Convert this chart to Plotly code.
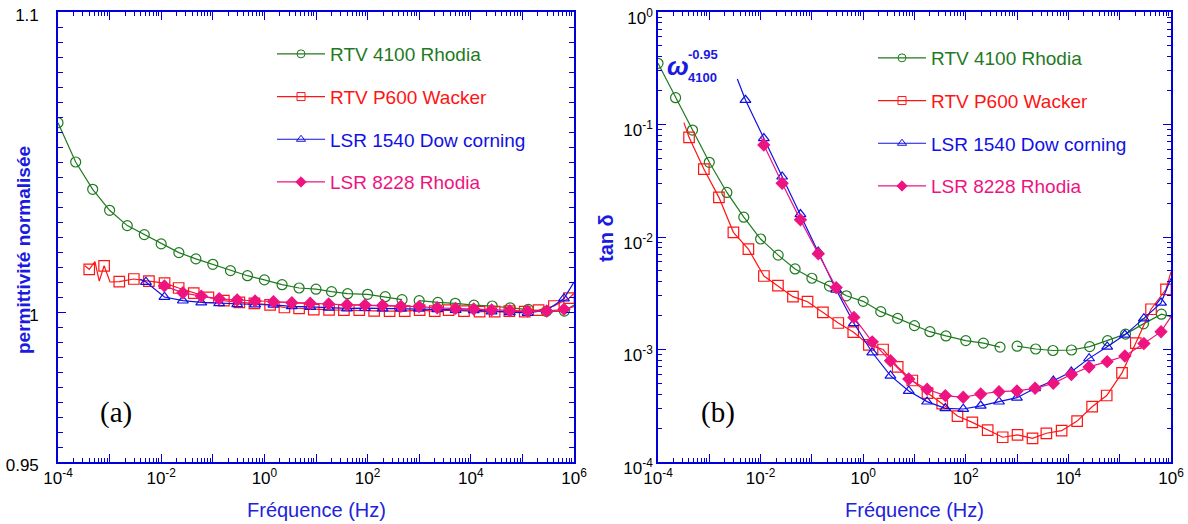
import plotly.graph_objects as go

# ------------------------------------------------------------------ data
names = ["RTV 4100 Rhodia", "RTV P600 Wacker", "LSR 1540 Dow corning", "LSR 8228 Rhodia"]

# RTV 4100 Rhodia : two measurement runs (low / high frequency), frequency in Hz
rtv4100_f_lf = [1.0e-4, 2.2e-4, 4.7e-4, 1.0e-3, 2.2e-3, 4.7e-3, 1.0e-2, 2.2e-2, 4.7e-2, 0.10, 0.22,
                0.47, 1.0, 2.2, 4.7, 10, 20, 41, 100, 220, 465]
rtv4100_f_hf = [1.0e3, 2.3e3, 5.0e3, 1.15e4, 2.6e4, 5.8e4, 1.3e5, 2.9e5, 6.5e5]
rtv4100_eps_lf = [1.0631, 1.0500, 1.0409, 1.0339, 1.0288, 1.0258, 1.0227, 1.0198, 1.0177, 1.0159, 1.0138,
                  1.0121, 1.0107, 1.0091, 1.0080, 1.0076, 1.0068, 1.0061, 1.0059, 1.0051, 1.0041]
rtv4100_eps_hf = [1.0038, 1.0032, 1.0029, 1.0023, 1.0020, 1.0014, 1.0009, 1.0002, 1.0003]
rtv4100_tan_lf = [0.350, 0.173, 0.0893, 0.0461, 0.0249, 0.0150, 0.0096, 0.0069, 0.0052, 0.0043, 0.00366,
                  0.0030, 0.00268, 0.00217, 0.00189, 0.00163, 0.00144, 0.00132, 0.00120, 0.00114, 0.00105]
rtv4100_tan_hf = [0.00107, 0.00101, 0.00098, 0.00099, 0.00106, 0.00120, 0.00137, 0.00169, 0.00206]
rtv4100_end_f = [1.0e6]
rtv4100_eps_end = [1.0023]
rtv4100_tan_end = [0.00196]

# RTV P600 Wacker
p600_f = [4.03e-4, 7.83e-4, 1.54e-3, 2.95e-3, 5.78e-3, 1.16e-2, 2.18e-2, 4.27e-2, 8.22e-2, 0.164, 0.327,
          0.640, 1.29, 2.44, 4.70, 9.06, 17.9, 34.7, 68.9, 134, 267, 524, 1.02e3, 2.00e3, 3.72e3,
          7.38e3, 1.48e4, 2.90e4, 5.58e4, 1.11e5, 2.06e5, 4.08e5, 8.0e5]
p600_eps = [1.0142, 1.0154, 1.0101, 1.0110, 1.0103, 1.0096, 1.0080, 1.0063, 1.0049, 1.0038, 1.0032,
            1.0029, 1.0024, 1.0015, 1.0012, 1.0008, 1.0007, 1.0006, 1.0006, 1.0004, 1.0003, 1.0003,
            1.0006, 1.0003, 1.0006, 1.0003, 1.0001, 1.0001, 1.0003, 1.0001, 1.0006, 1.0020, 1.0046]
p600_tan = [0.0769, 0.0402, 0.0225, 0.0110, 0.0078, 0.0045, 0.0037, 0.00295, 0.00266, 0.00214, 0.00172,
            0.00143, 0.00110, 0.00100, 0.00070, 0.00053, 0.00041, 0.00033, 0.000256, 0.000225, 0.000192,
            0.000166, 0.000174, 0.000162, 0.000180, 0.000190, 0.000231, 0.00031, 0.00039, 0.00062,
            0.00114, 0.00228, 0.00343]
p600_eps_extra_f = [3.33e-4, 5.2e-4, 6.3e-4, 1.02e-3, 1.0e6]
p600_eps_extra = [1.0154, 1.0168, 1.0103, 1.0100, 1.0062]
p600_tan_extra_f = [3.2e-4, 1.0e6]
p600_tan_extra = [0.104, 0.0049]

# LSR 1540 Dow corning
lsr1540_f = [5.07e-3, 1.156e-2, 2.63e-2, 5.98e-2, 0.133, 0.297, 0.66, 1.50, 3.40, 7.73, 17.6, 39.9,
             89.1, 195, 444, 993, 2.24e3, 5.08e3, 1.14e4, 2.53e4, 5.70e4, 1.26e5, 2.96e5, 6.40e5]
lsr1540_eps = [1.0100, 1.0050, 1.0038, 1.0032, 1.0029, 1.0026, 1.0025, 1.0024, 1.0019, 1.0017, 1.0014,
               1.0012, 1.0013, 1.0012, 1.0012, 1.0011, 1.0009, 1.0007, 1.0006, 1.0002, 0.9999, 0.9997,
               1.0006, 1.0045]
lsr1540_tan = [0.165, 0.0754, 0.0344, 0.0159, 0.0074, 0.0034, 0.00171, 0.00094, 0.000585, 0.000428,
               0.000344, 0.000300, 0.000296, 0.000316, 0.000344, 0.000373, 0.000452, 0.000528, 0.000635,
               0.000834, 0.00106, 0.00135, 0.00189, 0.00260]
lsr1540_eps_extra_f = [3.9e-3, 1.0e6]
lsr1540_eps_extra = [1.0109, 1.0100]
lsr1540_tan_extra_f = [3.52e-3, 1.0e6]
lsr1540_tan_extra = [0.254, 0.0043]

# LSR 8228 Rhodia
lsr8228_f = [1.156e-2, 2.63e-2, 5.98e-2, 0.133, 0.297, 0.66, 1.50, 3.40, 7.73, 17.6, 39.9,
             89.1, 195, 444, 993, 2.24e3, 5.08e3, 1.14e4, 2.53e4, 5.70e4, 1.26e5, 2.96e5, 6.40e5]
lsr8228_eps = [1.0087, 1.0064, 1.0053, 1.0044, 1.0040, 1.0037, 1.0034, 1.0031, 1.0029, 1.0027, 1.0024,
               1.0023, 1.0022, 1.0019, 1.0018, 1.0014, 1.0012, 1.0010, 1.0007, 1.0004, 1.0003, 1.0003,
               1.0009]
lsr8228_tan = [0.0658, 0.0300, 0.0142, 0.0071, 0.00355, 0.00193, 0.00117, 0.000795, 0.000547, 0.000443,
               0.000389, 0.000376, 0.000402, 0.000422, 0.000428, 0.000452, 0.000500, 0.000600, 0.000700,
               0.000780, 0.000875, 0.00113, 0.00144]
lsr8228_eps_extra_f = [1.0e6]
lsr8228_eps_extra = [1.0018]
lsr8228_tan_extra_f = [1.02e-2, 1.0e6]
lsr8228_tan_extra = [0.079, 0.00196]

# y tick labels of panel (a)
eps_tickvals = [0.95, 1.0, 1.1]
eps_ticktext = ["0.95", "1", "1.1"]

# ------------------------------------------------------------------ style
W, H = 1188, 524
GREEN, RED, BLUE, PINK = "#1f7a1f", "#ff1414", "#1010e6", "#ee1480"
AX = "#0000dd"
colors = [GREEN, RED, BLUE, PINK]
symbols = ["circle-open", "square-open", "triangle-up-open", "diamond"]
msize = [10, 10.5, 9.5, 9]


def px(x):
    return x / W


def py(y):
    return 1 - y / H


def merged(f, v, ef, ev):
    pts = sorted(zip(list(f) + list(ef), list(v) + list(ev)))
    return [p[0] for p in pts], [p[1] for p in pts]


fig = go.Figure()


def add_series(i, f, v, ef, ev, xa, ya):
    lx, ly = merged(f, v, ef, ev)
    fig.add_trace(go.Scatter(x=lx, y=ly, mode="lines", showlegend=False, hoverinfo="skip",
                             line=dict(color=colors[i], width=1.2), xaxis=xa, yaxis=ya))
    fig.add_trace(go.Scatter(x=f, y=v, mode="markers", showlegend=False,
                             marker=dict(symbol=symbols[i], size=msize[i], color=colors[i],
                                         line=dict(color=colors[i], width=1.2)),
                             xaxis=xa, yaxis=ya))


def add_green(lf_v, hf_v, end_v, xa, ya):
    ax_, ay_ = merged(rtv4100_f_lf, lf_v, [], [])
    bx_, by_ = merged(rtv4100_f_hf, hf_v, rtv4100_end_f, end_v)
    fig.add_trace(go.Scatter(x=ax_ + [None] + bx_, y=ay_ + [None] + by_, mode="lines", showlegend=False,
                             hoverinfo="skip", line=dict(color=GREEN, width=1.2), xaxis=xa, yaxis=ya,
                             connectgaps=False))
    fig.add_trace(go.Scatter(x=rtv4100_f_lf + rtv4100_f_hf, y=lf_v + hf_v, mode="markers", showlegend=False,
                             marker=dict(symbol=symbols[0], size=msize[0], color=GREEN,
                                         line=dict(color=GREEN, width=1.2)),
                             xaxis=xa, yaxis=ya))


# panel (a)
add_green(rtv4100_eps_lf, rtv4100_eps_hf, rtv4100_eps_end, "x", "y")
add_series(1, p600_f, p600_eps, p600_eps_extra_f, p600_eps_extra, "x", "y")
add_series(2, lsr1540_f, lsr1540_eps, lsr1540_eps_extra_f, lsr1540_eps_extra, "x", "y")
add_series(3, lsr8228_f, lsr8228_eps, lsr8228_eps_extra_f, lsr8228_eps_extra, "x", "y")
# panel (b)
add_green(rtv4100_tan_lf, rtv4100_tan_hf, rtv4100_tan_end, "x2", "y2")
add_series(1, p600_f, p600_tan, p600_tan_extra_f, p600_tan_extra, "x2", "y2")
add_series(2, lsr1540_f, lsr1540_tan, lsr1540_tan_extra_f, lsr1540_tan_extra, "x2", "y2")
add_series(3, lsr8228_f, lsr8228_tan, lsr8228_tan_extra_f, lsr8228_tan_extra, "x2", "y2")

# legend entries (one legend per panel)
leg_size = [8, 8, 8, 8]
for lg, xa, ya in (("legend", "x", "y"), ("legend2", "x2", "y2")):
    for i, n in enumerate(names):
        fig.add_trace(go.Scatter(x=[None], y=[None], mode="lines+markers", legend=lg,
                                 legendgroup=f"{lg}{i}",
                                 name=f"<span style='color:{colors[i]}'>{n}</span>",
                                 line=dict(color=colors[i], width=1.2),
                                 marker=dict(symbol=symbols[i], size=leg_size[i], color=colors[i],
                                             line=dict(color=colors[i], width=1)),
                                 xaxis=xa, yaxis=ya))

# ------------------------------------------------------------------ axes
dec_vals = [10.0 ** e for e in range(-4, 7)]
dec_text = [("10<sup>%d</sup>" % e if e % 2 == 0 else " ") for e in range(-4, 7)]
minor_log = [m * 10.0 ** e for e in range(-4, 6) for m in range(2, 10)]

tickfont = dict(family="Liberation Sans, Arial", size=17, color="black")
common = dict(showline=True, linecolor=AX, linewidth=1.6, mirror="ticks", ticks="inside",
              tickcolor=AX, tickwidth=1.2, showgrid=False, zeroline=False, tickfont=tickfont,
              automargin=False, ticklabeloverflow="allow")

xlog = dict(type="log", range=[-4, 6.00001], tickmode="array", tickvals=dec_vals, ticktext=dec_text,
            ticklen=8,
            minor=dict(tickmode="array", tickvals=minor_log, ticks="inside", ticklen=4, tickcolor=AX,
                       tickwidth=1, showgrid=False), **common)

eps_minor = [round(0.95 + 0.005 * k, 3) for k in range(31)]
ylin = dict(range=[0.95, 1.1], tickmode="array", tickvals=eps_tickvals, ticktext=eps_ticktext, ticklen=8,
            minor=dict(tickmode="array", tickvals=eps_minor, ticks="inside", ticklen=5, tickcolor=AX,
                       tickwidth=1, showgrid=False),
            ticklabelstandoff=14, ticklabelshift=3, **common)

ylog_vals = [10.0 ** e for e in range(-4, 1)]
ylog_text = ["10<sup>%d</sup>" % e for e in range(-4, 1)]
minor_ylog = [m * 10.0 ** e for e in range(-4, 0) for m in range(2, 10)]
ylog = dict(type="log", range=[-4, 0.00001], tickmode="array", tickvals=ylog_vals, ticktext=ylog_text,
            ticklen=8, ticklabelshift=6,
            minor=dict(tickmode="array", tickvals=minor_ylog, ticks="inside", ticklen=4, tickcolor=AX,
                       tickwidth=1, showgrid=False),
            **common)

legfont = dict(family="Liberation Sans, Arial", size=19)
fig.update_layout(
    width=W, height=H, margin=dict(l=0, r=0, t=0, b=0),
    paper_bgcolor="white", plot_bgcolor="white",
    xaxis=dict(domain=[px(58), px(574)], anchor="y", **xlog),
    yaxis=dict(domain=[py(462), py(12)], anchor="x", **ylin),
    xaxis2=dict(domain=[px(658), px(1171)], anchor="y2", **xlog),
    yaxis2=dict(domain=[py(462), py(12)], anchor="x2", **ylog),
    legend=dict(x=px(272), y=py(35), xanchor="left", yanchor="top", bgcolor="rgba(0,0,0,0)",
                font=legfont, traceorder="grouped", tracegroupgap=15, itemwidth=48),
    legend2=dict(x=px(873), y=py(39), xanchor="left", yanchor="top", bgcolor="rgba(0,0,0,0)",
                 font=legfont, traceorder="grouped", tracegroupgap=15, itemwidth=48),
    showlegend=True,
)

ann = []
title_font = dict(family="Liberation Sans, Arial", size=20, color="#2222dd")
ann.append(dict(text="Fréquence (Hz)", x=px(316), y=py(510), font=title_font))
ann.append(dict(text="Fréquence (Hz)", x=px(914), y=py(510), font=title_font))
ann.append(dict(text="<b>permittivité normalisée</b>", x=px(23), y=py(250), textangle=-90,
                font=dict(family="Liberation Sans, Arial", size=19, color="#1a1ae0")))
ann.append(dict(text="<b>tan δ</b>", x=px(606), y=py(238), textangle=-90,
                font=dict(family="Liberation Sans, Arial", size=20, color="#1a1ae0")))
ann.append(dict(text="(a)", x=px(116), y=py(412),
                font=dict(family="Liberation Serif, Times New Roman", size=29, color="black")))
ann.append(dict(text="(b)", x=px(718), y=py(412),
                font=dict(family="Liberation Serif, Times New Roman", size=29, color="black")))
ann.append(dict(text="<b><i>ω</i></b>", x=px(678), y=py(66),
                font=dict(family="Liberation Sans, Arial", size=26, color="#1a1ae0")))
ann.append(dict(text="<b>-0.95</b>", x=px(703), y=py(55),
                font=dict(family="Liberation Sans, Arial", size=13, color="#1a1ae0")))
ann.append(dict(text="<b>4100</b>", x=px(702), y=py(78),
                font=dict(family="Liberation Sans, Arial", size=13, color="#1a1ae0")))
for a in ann:
    a.update(xref="paper", yref="paper", showarrow=False, xanchor="center", yanchor="middle")
fig.update_layout(annotations=ann)

fig.write_html("out.html", config={"displayModeBar": False},
               post_script="document.body.style.margin='0';")
